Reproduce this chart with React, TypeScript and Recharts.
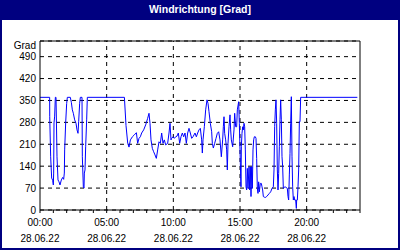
import React from 'react';
import { LineChart, Line, XAxis, YAxis, CartesianGrid, ReferenceLine } from 'recharts';

// time of day in hours (28.06.22)
const hours = [
  0, 0.725, 0.73, 0.8, 0.875, 0.95, 1.0, 1.025, 1.05, 1.1, 1.15, 1.2, 1.275, 1.35, 1.425, 1.5, 1.6, 1.7, 1.775, 1.825,
  1.85, 1.925, 2.0, 2.05, 2.275, 2.35, 2.425, 2.5, 2.6, 2.7, 2.775, 2.85, 2.9, 2.975, 3.025, 3.15, 3.175, 3.25, 3.3, 3.325,
  3.375, 3.425, 3.5, 3.55, 6.33, 6.45, 6.58, 6.675, 6.78, 6.93, 7.075, 7.23, 7.325, 7.425, 7.525, 7.625, 7.775, 7.925, 8.075, 8.175,
  8.25, 8.325, 8.425, 8.525, 8.625, 8.725, 8.825, 8.925, 9.025, 9.125, 9.225, 9.325, 9.425, 9.575, 9.675, 9.75, 9.825, 9.875, 9.975, 10.075,
  10.175, 10.275, 10.375, 10.475, 10.575, 10.675, 10.775, 10.875, 10.975, 11.075, 11.175, 11.275, 11.375, 11.475, 11.625, 11.725, 11.825, 11.925, 12.025, 12.125,
  12.175, 12.225, 12.325, 12.425, 12.525, 12.6, 12.675, 12.775, 12.875, 12.925, 13.0, 13.1, 13.2, 13.3, 13.4, 13.5, 13.6, 13.7, 13.75, 13.8,
  13.85, 13.925, 14.0, 14.05, 14.1, 14.175, 14.25, 14.3, 14.35, 14.45, 14.55, 14.6, 14.675, 14.75, 14.8, 14.9, 14.95, 15.0, 15.05, 15.075,
  15.1, 15.15, 15.2, 15.25, 15.3, 15.35, 15.4, 15.45, 15.5, 15.55, 15.6, 15.675, 15.725, 15.775, 15.825, 15.875, 15.925, 15.975, 16.025, 16.075,
  16.15, 16.2, 16.25, 16.3, 16.35, 16.4, 16.45, 16.525, 16.6, 16.65, 16.7, 16.75, 16.825, 16.9, 17.0, 17.1, 17.2, 17.3, 17.4, 17.5,
  17.55, 17.6, 17.65, 17.7, 17.75, 17.8, 17.85, 17.9, 17.95, 18.0, 18.05, 18.1, 18.15, 18.2, 18.25, 18.35, 18.425, 18.55, 18.6, 18.65,
  18.7, 18.75, 18.8, 18.85, 18.9, 18.95, 19.0, 19.05, 19.1, 19.175, 19.225, 19.25, 19.3, 19.35, 19.4, 19.45, 19.5, 19.55, 23.8,
];

// wind direction in degrees
const grad = [
  360, 360, 298, 170, 102, 95, 80, 118, 278, 300, 360, 360, 170, 96, 90, 80, 96, 104, 98, 118,
  192, 278, 340, 360, 360, 344, 320, 309, 288, 277, 256, 245, 282, 341, 360, 360, 170, 74, 70, 118,
  128, 202, 288, 360, 360, 270, 213, 201, 224, 234, 240, 247, 213, 229, 234, 246, 256, 272, 293, 309,
  277, 224, 197, 186, 176, 165, 192, 218, 213, 246, 213, 224, 208, 213, 246, 277, 224, 229, 234, 229,
  234, 236, 246, 213, 234, 246, 234, 246, 213, 246, 261, 246, 229, 234, 246, 234, 246, 256, 261, 224,
  182, 224, 266, 320, 352, 341, 314, 277, 250, 213, 198, 213, 229, 245, 250, 224, 170, 224, 266, 298,
  245, 224, 192, 128, 213, 266, 304, 256, 224, 202, 256, 309, 266, 266, 320, 346, 277, 192, 107, 74,
  202, 245, 266, 256, 277, 266, 192, 74, 64, 133, 69, 138, 64, 138, 43, 138, 69, 192, 224, 234,
  234, 229, 165, 69, 53, 90, 58, 85, 85, 74, 64, 43, 41, 40, 43, 48, 53, 58, 69, 74,
  128, 266, 320, 352, 277, 128, 64, 117, 202, 288, 352, 288, 170, 138, 69, 74, 73, 69, 43, 32,
  112, 181, 277, 362, 170, 74, 32, 43, 32, 32, 5, 32, 32, 74, 128, 282, 282, 360, 360,
];

const leftTicks = [0, 70, 140, 210, 280, 350, 420, 490, 540];
const compass = ['N', 'NE', 'E', 'SE', 'S', 'SW', 'W', 'NW', 'N', 'NE', 'E', 'SE', 'S'];
const compassTicks = compass.map((_, i) => i * 45);
const hourTicks = Array.from({ length: 25 }, (_, i) => i);
const majorHours = [5, 10, 15, 20];
const dateLabel = '28.06.22';

const data = hours.map((h, i) => ({ h, grad: grad[i] }));

const font = { fontFamily: 'Liberation Sans', fontSize: 10, fill: '#000' };

const LeftTick = ({ x, y, payload }: any) => (
  <text x={x} y={y} dy={payload.value === 540 ? 7.5 : 3.5} textAnchor="end" {...font}>
    {payload.value === 540 ? 'Grad' : payload.value}
  </text>
);

const RightTick = ({ x, y, payload }: any) => (
  <text x={x} y={y} dy={3.5} textAnchor="start" {...font}>
    {compass[compassTicks.indexOf(payload.value)]}
  </text>
);

const TimeTick = ({ x, y, payload }: any) => {
  if (payload.value % 5 !== 0 || payload.value === 24) return null;
  const label = String(payload.value).padStart(2, '0') + ':00';
  return (
    <g>
      <text x={x} y={y} dy={11} textAnchor="middle" {...font}>{label}</text>
      <text x={x} y={y} dy={27} textAnchor="middle" {...font}>{dateLabel}</text>
    </g>
  );
};

export default function App() {
  return (
    <div style={{ position: 'relative', width: 400, height: 250, background: '#fff', boxShadow: 'inset 0 0 0 2px #000080' }}>
      <style>{'body{margin:0}'}</style>
      <div
        style={{
          position: 'absolute', left: 0, top: 0, width: 400, height: 20, background: '#000080', color: '#fff',
          fontFamily: 'Liberation Sans', fontWeight: 'bold', fontSize: 10.5, textAlign: 'center', lineHeight: '18px',
        }}
      >
        Windrichtung [Grad]
      </div>
      <div style={{ position: 'absolute', left: 0, top: 0 }}>
        <LineChart width={400} height={250} data={data} margin={{ top: 41, right: 4, left: 4, bottom: 0 }}>
          <CartesianGrid yAxisId="left" vertical={false} stroke="#000" strokeDasharray="4 4" />
          <XAxis
            dataKey="h"
            type="number"
            domain={[0, 24]}
            ticks={hourTicks}
            interval={0}
            height={40}
            tickSize={3}
            tickMargin={2}
            stroke="#000"
            tick={<TimeTick />}
          />
          <YAxis
            yAxisId="left"
            domain={[0, 540]}
            ticks={leftTicks}
            interval={0}
            width={36}
            tickSize={0}
            tickMargin={4}
            stroke="#000"
            tick={<LeftTick />}
          />
          <YAxis
            yAxisId="right"
            orientation="right"
            domain={[0, 540]}
            ticks={compassTicks}
            interval={0}
            width={36}
            tickSize={3}
            tickMargin={3}
            stroke="#000"
            tick={<RightTick />}
          />
          {majorHours.map((h) => (
            <ReferenceLine key={h} x={h} yAxisId="left" stroke="#000" strokeDasharray="4 4" />
          ))}
          <ReferenceLine y={540} yAxisId="left" stroke="#000" />
          <Line
            yAxisId="left"
            dataKey="grad"
            type="linear"
            stroke="#0000FF"
            strokeWidth={1}
            dot={false}
            isAnimationActive={false}
          />
        </LineChart>
      </div>
    </div>
  );
}
